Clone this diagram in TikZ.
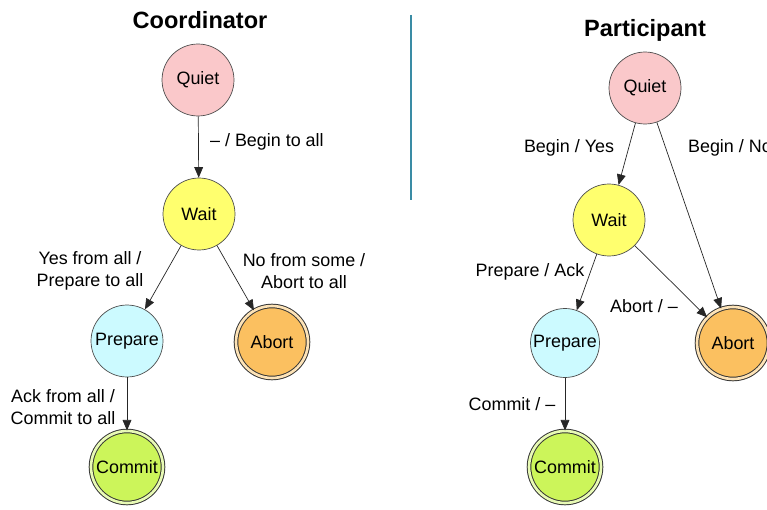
\documentclass[tikz,border=0pt]{standalone}
\usepackage{fontspec}
\setmainfont{Liberation Sans}
\usetikzlibrary{arrows.meta}

\definecolor{quietcol}{RGB}{250,200,202}
\definecolor{waitcol}{RGB}{255,255,110}
\definecolor{prepcol}{RGB}{204,250,255}
\definecolor{abortcol}{RGB}{251,192,96}
\definecolor{commitcol}{RGB}{204,245,90}
\definecolor{rulecol}{RGB}{58,140,165}

\begin{document}
\begin{tikzpicture}[x=0.02cm, y=-0.02cm,
    state/.style={circle, draw=black!70, thin, minimum size=1.44cm, inner sep=0pt,
                  font=\fontsize{10.2}{12.5}\selectfont},
    final/.style={state, fill=#1, draw=black!80, line width=0.55pt,
                  double=#1!45!white, double distance=1.5pt},
    lbl/.style={font=\fontsize{10.2}{12.5}\selectfont, align=center, inner sep=1pt},
    title/.style={font=\bfseries\fontsize{13.4}{16}\selectfont},
    arr/.style={-{Triangle[length=6pt,width=5pt]}, black!85, thin}]
    \useasboundingbox (0,0) rectangle (767,510);

    % Divider
    \draw[rulecol, line width=1pt] (411,15) -- (411,200);

    % Coordinator
    \node[title] (ctitle) at (200,20) {Coordinator};
    \node[state, fill=quietcol] (cquiet) at (198,80) {Quiet};
    \node[state, fill=waitcol] (cwait) at (199,214) {Wait};
    \node[state, fill=prepcol] (cprep) at (127,341) {Prepare};
    \node[final=abortcol] (cabort) at (272,342) {Abort};
    \node[final=commitcol] (ccommit) at (127,467) {Commit};

    \draw[arr] (cquiet) -- (cwait);
    \draw[arr] (cwait) -- (cprep);
    \draw[arr] (cwait) -- (cabort);
    \draw[arr] (cprep) -- (ccommit);

    \node[lbl, anchor=west] (l1) at (208,142) {-- / Begin to all};
    \node[lbl] (l2) at (90,271) {Yes from all /\\Prepare to all};
    \node[lbl] (l3) at (304,271) {No from some /\\Abort to all};
    \node[lbl] (l4) at (63,407) {Ack from all /\\Commit to all};

    % Participant
    \node[title] (ptitle) at (645,30) {Participant};
    \node[state, fill=quietcol] (pquiet) at (645,88) {Quiet};
    \node[state, fill=waitcol] (pwait) at (609,220) {Wait};
    \node[state, fill=prepcol, minimum size=1.38cm] (pprep) at (565,343) {Prepare};
    \node[final=abortcol] (pabort) at (733,343) {Abort};
    \node[final=commitcol] (pcommit) at (565,467) {Commit};

    \draw[arr] (pquiet) -- (pwait);
    \draw[arr] (pquiet) -- (pabort);
    \draw[arr] (pwait) -- (pprep);
    \draw[arr] (pwait) -- (pabort);
    \draw[arr] (pprep) -- (pcommit);

    \node[lbl] (m1) at (569,148) {Begin / Yes};
    \node[lbl, anchor=west] (m2) at (686,148) {Begin / No};
    \node[lbl] (m3) at (530,272) {Prepare / Ack};
    \node[lbl] (m4) at (644,306) {Abort / --};
    \node[lbl] (m5) at (512,404) {Commit / --};
\end{tikzpicture}
\end{document}
